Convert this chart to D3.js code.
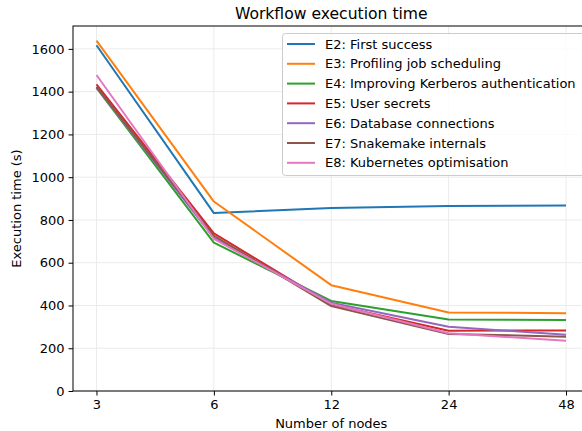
<!DOCTYPE html>
<html>
<head>
<meta charset="utf-8">
<script src="https://cdn.jsdelivr.net/npm/d3@7"></script>
<style>
html,body{margin:0;padding:0;background:#fff;}
svg{display:block;overflow:hidden;}
text{font-family:"DejaVu Sans",sans-serif;fill:#000;}
</style>
</head>
<body>
<svg id="chart" width="582" height="431"></svg>
<script>
const nodes = [3, 6, 12, 24, 48];
const seriesNames = [
  "E2: First success",
  "E3: Profiling job scheduling",
  "E4: Improving Kerberos authentication",
  "E5: User secrets",
  "E6: Database connections",
  "E7: Snakemake internals",
  "E8: Kubernetes optimisation"
];
const e2 = [1617, 832, 856, 865, 868];
const e3 = [1639, 886, 495, 367, 364];
const e4 = [1418, 694, 421, 334, 332];
const e5 = [1434, 737, 405, 282, 283];
const e6 = [1420, 716, 413, 300, 263];
const e7 = [1422, 726, 397, 267, 254];
const e8 = [1478, 712, 408, 270, 235];
const seriesValues = [e2, e3, e4, e5, e6, e7, e8];
const colors = ["#1f77b4","#ff7f0e","#2ca02c","#d62728","#9467bd","#8c564b","#e377c2"];
const yTicks = [0, 200, 400, 600, 800, 1000, 1200, 1400, 1600];

const svg = d3.select("#chart");
const mLeft = 73, mRight = 589.5, mTop = 26, mBottom = 391;
const fs = "13px";

const x = d3.scaleLog().base(2)
  .domain([3 * Math.pow(2, -0.2), 48 * Math.pow(2, 0.2)])
  .range([mLeft, mRight]);
const y = d3.scaleLinear().domain([0, 1707]).range([mBottom, mTop]);

// grid
const grid = svg.append("g");
grid.selectAll("line.gx").data(nodes).enter().append("line")
  .attr("x1", d => x(d)).attr("x2", d => x(d))
  .attr("y1", mTop).attr("y2", mBottom)
  .attr("stroke", "#ebebeb").attr("stroke-width", 1);
grid.selectAll("line.gy").data(yTicks).enter().append("line")
  .attr("x1", mLeft).attr("x2", mRight)
  .attr("y1", d => y(d)).attr("y2", d => y(d))
  .attr("stroke", "#ebebeb").attr("stroke-width", 1);

// lines
const line = d3.line().x((d, i) => x(nodes[i])).y(d => y(d));
seriesValues.forEach((vals, i) => {
  svg.append("path").datum(vals)
    .attr("d", line)
    .attr("fill", "none")
    .attr("stroke", colors[i])
    .attr("stroke-width", 2)
    .attr("stroke-linejoin", "round")
    .attr("stroke-linecap", "butt");
});

// axes
const xAxis = d3.axisBottom(x).tickValues(nodes).tickFormat(d3.format("d")).tickSizeOuter(0).tickSize(4.5).tickPadding(4);
const yAxis = d3.axisLeft(y).tickValues(yTicks).tickFormat(d3.format("d")).tickSizeOuter(0).tickSize(4.5).tickPadding(4);
const gx = svg.append("g").attr("transform", `translate(0,${mBottom})`).call(xAxis);
const gy = svg.append("g").attr("transform", `translate(${mLeft},0)`).call(yAxis);
[gx, gy].forEach(g => {
  g.select(".domain").remove();
  g.selectAll(".tick line").attr("stroke", "#000").attr("stroke-width", 1);
  g.selectAll(".tick text").style("font-size", fs).style("font-family", "DejaVu Sans").attr("fill", "#000");
});

// spines
svg.append("rect").attr("x", mLeft).attr("y", mTop)
  .attr("width", mRight - mLeft).attr("height", mBottom - mTop)
  .attr("fill", "none").attr("stroke", "#000").attr("stroke-width", 1);

// labels
svg.append("text").attr("x", (mLeft + mRight) / 2).attr("y", 19)
  .attr("text-anchor", "middle").style("font-size", "15.6px").text("Workflow execution time");
svg.append("text").attr("x", (mLeft + mRight) / 2).attr("y", 428)
  .attr("text-anchor", "middle").style("font-size", fs).text("Number of nodes");
svg.append("text").attr("transform", `translate(21,${(mTop + mBottom) / 2}) rotate(-90)`)
  .attr("text-anchor", "middle").style("font-size", fs).text("Execution time (s)");

// legend
const lg = svg.append("g");
lg.append("rect").attr("x", 282.5).attr("y", 33.5).attr("width", 320).attr("height", 142)
  .attr("rx", 3).attr("fill", "#fff").attr("fill-opacity", 0.8)
  .attr("stroke", "#cccccc").attr("stroke-width", 1);
seriesNames.forEach((name, i) => {
  const cy = 44 + i * 19.8;
  lg.append("line").attr("x1", 287).attr("x2", 315).attr("y1", cy).attr("y2", cy)
    .attr("stroke", colors[i]).attr("stroke-width", 2);
  lg.append("text").attr("x", 325).attr("y", cy).attr("dy", "0.35em")
    .style("font-size", fs).text(name);
});
</script>
</body>
</html>
